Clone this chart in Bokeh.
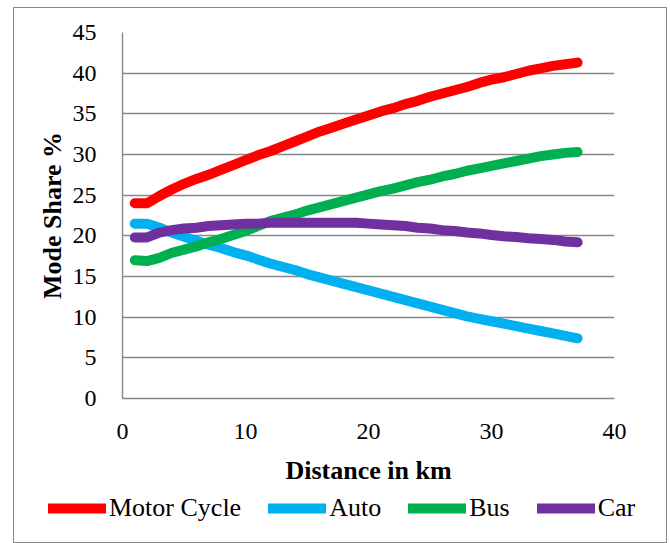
from bokeh.plotting import figure
from bokeh.models import Range1d, Legend, LegendItem, FixedTicker
from bokeh.layouts import column
from bokeh.embed import file_html
from bokeh.resources import INLINE

distance_km = list(range(1, 38))
motor_cycle = [24.0, 24.0, 24.9, 25.7, 26.4, 27.0, 27.5, 28.1, 28.7, 29.3,
               29.9, 30.4, 31.0, 31.6, 32.2, 32.8, 33.3, 33.8, 34.3, 34.8,
               35.3, 35.7, 36.2, 36.6, 37.1, 37.5, 37.9, 38.3, 38.8, 39.2,
               39.5, 39.9, 40.3, 40.6, 40.9, 41.1, 41.3]
auto = [21.5, 21.5, 21.0, 20.4, 19.9, 19.4, 18.9, 18.5, 18.0, 17.6,
        17.1, 16.6, 16.2, 15.8, 15.3, 14.9, 14.5, 14.1, 13.7, 13.3,
        12.9, 12.5, 12.1, 11.7, 11.3, 10.9, 10.5, 10.1, 9.8, 9.5,
        9.2, 8.9, 8.6, 8.3, 8.0, 7.7, 7.4]
bus = [17.0, 16.9, 17.3, 17.9, 18.3, 18.7, 19.2, 19.6, 20.1, 20.6,
       21.2, 21.8, 22.2, 22.6, 23.1, 23.5, 23.9, 24.3, 24.7, 25.1,
       25.5, 25.8, 26.2, 26.6, 26.9, 27.3, 27.6, 28.0, 28.3, 28.6,
       28.9, 29.2, 29.5, 29.8, 30.0, 30.2, 30.3]
car = [19.8, 19.8, 20.4, 20.7, 20.9, 21.0, 21.2, 21.3, 21.4, 21.5,
       21.5, 21.6, 21.6, 21.6, 21.6, 21.6, 21.6, 21.6, 21.6, 21.5,
       21.4, 21.3, 21.2, 21.0, 20.9, 20.7, 20.6, 20.4, 20.3, 20.1,
       19.95, 19.85, 19.7, 19.6, 19.5, 19.3, 19.2]

series_names = ["Motor Cycle", "Auto", "Bus", "Car"]
series_values = [motor_cycle, auto, bus, car]
series_colors = ["#FF0000", "#00B0F0", "#00B050", "#7030A0"]
x_ticks = [0, 10, 20, 30, 40]
y_ticks = [0, 5, 10, 15, 20, 25, 30, 35, 40, 45]

FONT = "Liberation Serif"
GRAY = "#898989"

# main chart
p = figure(frame_width=492, frame_height=366, output_backend="svg",
           toolbar_location=None,
           x_range=Range1d(0, 40), y_range=Range1d(0, 45),
           min_border_left=108, min_border_right=52, min_border_top=24,
           min_border_bottom=92)
p.outline_line_color = None
p.background_fill_color = "white"
p.border_fill_color = "white"

p.xgrid.grid_line_color = None
p.ygrid.grid_line_color = GRAY
p.ygrid.grid_line_width = 1.4
p.xaxis.ticker = FixedTicker(ticks=x_ticks)
p.yaxis.ticker = FixedTicker(ticks=y_ticks)
p.xaxis.minor_tick_line_color = None
p.yaxis.minor_tick_line_color = None
p.xaxis.major_tick_line_color = None
p.yaxis.major_tick_line_color = None
p.xaxis.axis_line_color = GRAY
p.yaxis.axis_line_color = GRAY
p.xaxis.axis_line_width = 1.4
p.yaxis.axis_line_width = 1.4

for ax in (p.xaxis, p.yaxis):
    ax.major_label_text_font = FONT
    ax.major_label_text_font_size = "24px"
    ax.major_label_text_color = "black"
    ax.axis_label_text_font = FONT
    ax.axis_label_text_font_size = "26px"
    ax.axis_label_text_font_style = "bold"
    ax.axis_label_text_color = "black"

p.xaxis.axis_label = "Distance in km"
p.yaxis.axis_label = "Mode Share %"
p.xaxis.major_label_standoff = 19
p.yaxis.major_label_standoff = 20
p.xaxis.axis_label_standoff = 14
p.yaxis.axis_label_standoff = 3

for name, vals, col in zip(series_names, series_values, series_colors):
    p.line(distance_km, vals, line_color=col, line_width=10,
           line_cap="round", line_join="round")

# legend strip below the chart (legend-only figure; its lines lie off-range)
lg = figure(width=652, height=52, output_backend="svg", toolbar_location=None,
            x_range=Range1d(100, 101), y_range=Range1d(100, 101),
            min_border=0, min_border_left=0, min_border_right=0,
            min_border_top=0, min_border_bottom=0)
lg.axis.visible = False
lg.grid.visible = False
lg.outline_line_color = None
lg.background_fill_color = "white"
lg.border_fill_color = "white"

items = []
for name, vals, col in zip(series_names, series_values, series_colors):
    r = lg.line(distance_km, vals, line_color=col, line_width=10,
                line_cap="round")
    items.append(LegendItem(label=name, renderers=[r]))

legend = Legend(items=items, orientation="horizontal", location=(34, 19),
                label_text_font=FONT, label_text_font_size="26px",
                label_text_color="black", glyph_width=58, glyph_height=20,
                label_standoff=3, spacing=27, padding=0, margin=0,
                border_line_color=None, background_fill_alpha=0)
lg.add_layout(legend)

layout = column(p, column(lg), spacing=0)
layout.margin = (7, 0, 0, 13)
layout.styles = {"border": "1px solid #898989"}

open("out.html", "w").write(file_html(layout, INLINE))
